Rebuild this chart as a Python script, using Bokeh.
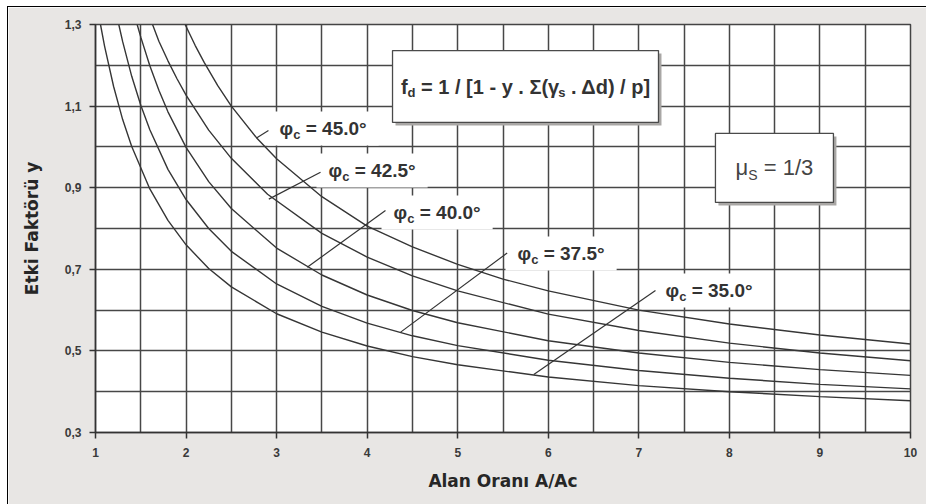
from bokeh.plotting import figure
from bokeh.models import FixedTicker, CustomJSTickFormatter, ColumnDataSource, Range1d
from bokeh.core.properties import value
from bokeh.embed import file_html
from bokeh.resources import INLINE

# ---- data ----
x_ticks = [1, 2, 3, 4, 5, 6, 7, 8, 9, 10]
x_grid = [1, 1.5, 2, 2.5, 3, 3.5, 4, 4.5, 5, 5.5, 6, 6.5, 7, 7.5, 8, 8.5, 9, 9.5, 10]
y_ticks = [0.3, 0.5, 0.7, 0.9, 1.1, 1.3]
y_grid = [0.3, 0.4, 0.5, 0.6, 0.7, 0.8, 0.9, 1.0, 1.1, 1.2, 1.3]

x45 = [1.99, 2.1, 2.2, 2.35, 2.5, 2.78, 3.0, 3.5, 4.0, 4.5, 5.0, 5.5, 6.0, 7.0, 8.0, 9.0, 10.0]
y45 = [1.30, 1.249, 1.207, 1.150, 1.100, 1.022, 0.971, 0.878, 0.806, 0.755, 0.712, 0.676, 0.647, 0.600, 0.566, 0.539, 0.517]

x425 = [1.63, 1.7, 1.8, 1.9, 2.0, 2.25, 2.5, 2.9, 3.5, 4.0, 4.5, 5.0, 6.0, 7.0, 8.0, 9.0, 10.0]
y425 = [1.30, 1.259, 1.211, 1.167, 1.127, 1.041, 0.972, 0.884, 0.788, 0.730, 0.684, 0.647, 0.590, 0.550, 0.519, 0.495, 0.476]

x40 = [1.46, 1.5, 1.6, 1.7, 1.8, 2.0, 2.25, 2.5, 3.0, 3.5, 4.0, 4.5, 5.0, 6.0, 7.0, 8.0, 9.0, 10.0]
y40 = [1.30, 1.269, 1.199, 1.139, 1.086, 0.999, 0.915, 0.849, 0.752, 0.686, 0.637, 0.599, 0.569, 0.525, 0.495, 0.472, 0.454, 0.440]

x375 = [1.257, 1.3, 1.4, 1.5, 1.6, 1.8, 2.0, 2.25, 2.5, 3.0, 3.5, 4.0, 4.5, 5.0, 6.0, 7.0, 8.0, 9.0, 10.0]
y375 = [1.30, 1.258, 1.173, 1.102, 1.042, 0.945, 0.871, 0.800, 0.744, 0.664, 0.609, 0.568, 0.537, 0.513, 0.477, 0.452, 0.433, 0.418, 0.407]

x35 = [1.055, 1.1, 1.2, 1.3, 1.4, 1.6, 1.8, 2.0, 2.25, 2.5, 3.0, 3.5, 4.0, 4.5, 5.0, 6.0, 7.0, 8.0, 9.0, 10.0]
y35 = [1.30, 1.247, 1.148, 1.067, 1.001, 0.897, 0.820, 0.760, 0.702, 0.657, 0.591, 0.546, 0.512, 0.486, 0.466, 0.436, 0.415, 0.400, 0.388, 0.378]

curves_x = [x45, x425, x40, x375, x35]
curves_y = [y45, y425, y40, y375, y35]

label_values = ["45.0", "42.5", "40.0", "37.5", "35.0"]
label_x = [3.032, 3.573, 4.291, 5.660, 7.294]
label_y = [1.045, 0.942, 0.839, 0.739, 0.648]
leader_x0 = [2.91, 3.485, 4.202, 5.546, 7.184]
leader_y0 = [1.040, 0.938, 0.844, 0.740, 0.648]
leader_x1 = [2.778, 2.914, 3.338, 4.37, 5.84]
leader_y1 = [1.022, 0.872, 0.705, 0.546, 0.442]

formula_box = [4.280, 7.217, 1.236, 1.060]   # left, right, top, bottom
mu_box = [7.846, 9.149, 1.033, 0.864]

# ---- figure ----
W, H = 918, 497
BL, BR, BT, BB = 87, 16, 17, 72
PX_X = (W - BL - BR) / 9.0
PX_Y = (H - BT - BB) / 1.0

p = figure(width=W, height=H, x_range=Range1d(1, 10), y_range=Range1d(0.3, 1.3),
           output_backend="svg", toolbar_location=None,
           min_border_left=BL, min_border_right=BR, min_border_top=BT, min_border_bottom=BB,
           background_fill_color="white", border_fill_color="#e8e6e4")
p.styles = {"margin-left": "8px", "margin-top": "7px", "outline": "1px solid black"}
p.outline_line_color = "#444444"
p.outline_line_width = 1.5

p.xaxis.ticker = FixedTicker(ticks=x_ticks)
p.yaxis.ticker = FixedTicker(ticks=y_ticks)
p.yaxis.formatter = CustomJSTickFormatter(code="return tick.toFixed(1).replace('.', ',');")
p.xgrid.ticker = FixedTicker(ticks=x_grid)
p.ygrid.ticker = FixedTicker(ticks=y_grid)
for g in (p.xgrid, p.ygrid):
    g.grid_line_color = "#474747"
    g.grid_line_width = 1.5
    g.grid_line_alpha = 1.0

for ax in (p.xaxis, p.yaxis):
    ax.axis_line_color = "#333333"
    ax.axis_line_width = 1.5
    ax.major_tick_line_color = "#333333"
    ax.major_tick_line_width = 1.5
    ax.major_tick_out = 6
    ax.major_tick_in = 0
    ax.minor_tick_line_color = None
    ax.major_label_text_font = "Liberation Sans"
    ax.major_label_text_font_style = "bold"
    ax.major_label_text_font_size = "12px"
    ax.major_label_text_color = "#3a3a3a"
    ax.axis_label_text_font = "DejaVu Sans"
    ax.axis_label_text_font_style = "bold"
    ax.axis_label_text_font_size = "17px"
    ax.axis_label_text_color = "#262626"

p.xaxis.axis_label = "Alan Oranı A/Ac"
p.yaxis.axis_label = "Etki Faktörü y"
p.xaxis.major_label_standoff = 9
p.yaxis.major_label_standoff = 8
p.xaxis.axis_label_standoff = 11
p.yaxis.axis_label_standoff = 20

# ---- text metrics (em widths, Liberation Sans) ----
MAIN, SUB = 19, 13
SP = 0.278
phi_w = 0.72 * MAIN
c_w = 0.556 * SUB
rest_w = (0.584 + 0.278 + 0.556 * 3 + 0.278 + 0.4) * MAIN
lab_w = phi_w + c_w + SP * MAIN + rest_w

# white boxes behind the phi labels
box_w = [lab_w + 24] * len(label_values)
box_cx = [lx + (bw / 2 - 12) / PX_X for lx, bw in zip(label_x, box_w)]
p.rect(x=box_cx, y=label_y, width=box_w, height=[34] * len(label_values),
       width_units="screen", height_units="screen",
       fill_color="white", line_color=None)

# curves
for cx, cy in zip(curves_x, curves_y):
    p.line(cx, cy, line_color="#363636", line_width=1.4)

# leaders
p.segment(x0=leader_x0, y0=leader_y0, x1=leader_x1, y1=leader_y1,
          line_color="#333333", line_width=1.2)

# boxes with shadow
for (l, r, t, b) in (formula_box, mu_box):
    dx, dy = 3 / PX_X, 3 / PX_Y
    p.quad(left=[l + dx], right=[r + dx], top=[t - dy], bottom=[b - dy],
           fill_color="#a9a7a5", line_color=None)
    p.quad(left=[l], right=[r], top=[t], bottom=[b],
           fill_color="white", line_color="#4a4a4a", line_width=1.3)

# ---- text pieces ----
bold = dict(x=[], y=[], text=[], xo=[], yo=[], fs=[])
normal = dict(x=[], y=[], text=[], xo=[], yo=[], fs=[])


def add(d, x, y, t, xo, yo, fs):
    d["x"].append(x); d["y"].append(y); d["text"].append(t)
    d["xo"].append(xo); d["yo"].append(yo); d["fs"].append(f"{fs}px")


for v, lx, ly in zip(label_values, label_x, label_y):
    add(bold, lx, ly, "φ", 0, 0, MAIN)
    add(bold, lx, ly, "c", phi_w, 6, SUB)
    add(bold, lx, ly, f"= {v}°", phi_w + c_w + SP * MAIN, 0, MAIN)

# formula: f_d = 1 / [1 - y . Σ(γ_s . Δd) / p]
FM, FS = 20, 13
f_w = 0.333 * FM
d_w = 0.611 * FS
mid = "= 1 / [1 - y . Σ(γ"
mid_w = (0.584 + 0.278 + 0.556 + 0.278 + 0.278 + 0.278 + 0.333 + 0.556 + 0.278
         + 0.333 + 0.278 + 0.556 + 0.278 + 0.278 + 0.278 + 0.60 + 0.333 + 0.50) * FM
s_w = 0.556 * FS
tail = ". Δd) / p]"
tail_w = (0.278 + 0.278 + 0.68 + 0.611 + 0.333 + 0.278 + 0.278 + 0.278 + 0.611 + 0.333) * FM
total = f_w + d_w + SP * FM + mid_w + s_w + SP * FM + tail_w
fcx = (formula_box[0] + formula_box[1]) / 2
fcy = (formula_box[2] + formula_box[3]) / 2
o = -total / 2
add(bold, fcx, fcy, "f", o, 0, FM)
o += f_w
add(bold, fcx, fcy, "d", o, 6, FS)
o += d_w + SP * FM
add(bold, fcx, fcy, mid, o, 0, FM)
o += mid_w
add(bold, fcx, fcy, "s", o, 6, FS)
o += s_w + SP * FM
add(bold, fcx, fcy, tail, o, 0, FM)

# mu label: μ_S = 1/3
MM, MS = 22, 14
mu_w = 0.577 * MM
S_w = 0.667 * MS
mu_tail_w = (0.584 + 0.278 + 0.556 + 0.278 + 0.556) * MM
mtot = mu_w + S_w + SP * MM + mu_tail_w
mcx = (mu_box[0] + mu_box[1]) / 2
mcy = (mu_box[2] + mu_box[3]) / 2
o = -mtot / 2
add(normal, mcx, mcy, "μ", o, 0, MM)
add(normal, mcx, mcy, "S", o + mu_w, 7, MS)
add(normal, mcx, mcy, "= 1/3", o + mu_w + S_w + SP * MM, 0, MM)

p.text(x="x", y="y", text="text", x_offset="xo", y_offset="yo", text_font_size="fs",
       source=ColumnDataSource(bold), text_font=value("Liberation Sans"),
       text_font_style="bold", text_color="#333333", text_align="left", text_baseline="middle")
p.text(x="x", y="y", text="text", x_offset="xo", y_offset="yo", text_font_size="fs",
       source=ColumnDataSource(normal), text_font=value("Liberation Sans"),
       text_font_style="normal", text_color="#444444", text_align="left", text_baseline="middle")

open("out.html", "w").write(file_html(p, INLINE))
